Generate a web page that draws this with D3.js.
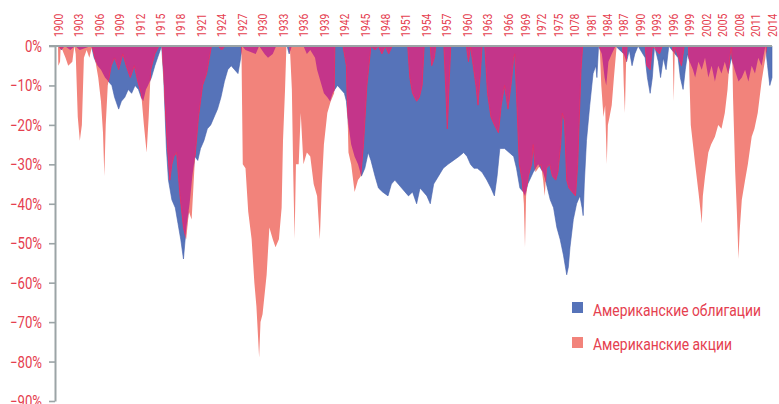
<!DOCTYPE html>
<html>
<head>
<meta charset="utf-8">
<script src="https://cdn.jsdelivr.net/npm/d3@7"></script>
<style>
  html, body { margin: 0; padding: 0; background: #fff; }
  svg { display: block; }
  text { font-family: Roboto, "Liberation Sans", sans-serif; font-weight: 400; fill: #e5404f; }
</style>
</head>
<body>
<svg id="chart" width="779" height="404"></svg>
<script>
// tick labels (the original chart prints 1978 as "1078")
const yearTicks = [1900, 1903, 1906, 1909, 1912, 1915, 1918, 1921, 1924, 1927, 1930, 1933, 1936, 1939,
  1942, 1945, 1948, 1951, 1954, 1957, 1960, 1963, 1966, 1969, 1972, 1975, 1978, 1981, 1984, 1987,
  1990, 1993, 1996, 1999, 2002, 2005, 2008, 2011, 2014];
const yearLabels = ["1900", "1903", "1906", "1909", "1912", "1915", "1918", "1921", "1924", "1927", "1930",
  "1933", "1936", "1939", "1942", "1945", "1948", "1951", "1954", "1957", "1960", "1963", "1966", "1969",
  "1972", "1975", "1078", "1981", "1984", "1987", "1990", "1993", "1996", "1999", "2002", "2005", "2008",
  "2011", "2014"];
const pctTicks = [0, -10, -20, -30, -40, -50, -60, -70, -80, -90];
const seriesNames = ["Американские облигации", "Американские акции"];

// drawdown from previous peak, % : [year, value]
const bonds = [
  [1900.0, 0], [1900.5, -1], [1901.0, 0], [1901.8, -1], [1902.5, 0], [1903.2, -1], [1904.0, -0.5],
  [1904.9, 0], [1905.3, -3], [1905.8, -5], [1906.3, -6], [1906.9, -8], [1907.4, -9], [1907.9, -10],
  [1908.3, -13], [1908.9, -16], [1909.3, -14], [1909.8, -13], [1910.3, -11], [1910.8, -12], [1911.3, -10],
  [1911.8, -11], [1912.2, -13], [1912.5, -14], [1912.9, -11], [1913.2, -10], [1913.7, -8], [1914.2, -5],
  [1914.6, -3], [1915.0, -1], [1915.2, 0], [1915.5, -8], [1915.9, -26], [1916.2, -34], [1916.7, -39],
  [1917.2, -41], [1917.6, -45], [1918.0, -49], [1918.4, -54], [1918.7, -48], [1918.9, -45], [1919.3, -40],
  [1919.7, -33], [1920.1, -28], [1920.5, -29], [1920.9, -26], [1921.4, -24], [1921.9, -21], [1922.4, -20],
  [1922.9, -18], [1923.4, -16], [1923.9, -13], [1924.4, -9], [1924.9, -6], [1925.4, -5], [1925.9, -6],
  [1926.4, -7], [1926.8, -3], [1927.0, 0], [1927.5, -1], [1929.0, -2], [1929.5, 0], [1930.3, -2],
  [1930.8, -3], [1931.5, -2], [1932.0, 0], [1933.6, 0], [1933.9, -2], [1934.3, 0], [1936.0, 0],
  [1936.5, -2], [1937.0, -1], [1937.7, -3], [1938.0, -6], [1938.5, -9], [1939.0, -12], [1939.5, -13],
  [1939.9, -14], [1940.3, -12], [1940.6, -11], [1941.0, -10], [1941.5, -11], [1942.0, -12], [1942.3, -14],
  [1942.6, -20], [1943.0, -25], [1943.5, -28], [1944.0, -30], [1944.5, -33], [1945.0, -31], [1945.5, -27],
  [1945.9, -29], [1946.5, -33], [1947.0, -36], [1947.6, -37], [1948.4, -38], [1948.9, -35], [1949.4, -34],
  [1949.9, -35], [1950.4, -36], [1950.9, -37], [1951.4, -38], [1952.0, -37], [1952.6, -40], [1953.1, -36],
  [1953.6, -37], [1954.1, -38], [1954.6, -40], [1955.1, -35], [1955.8, -33], [1956.5, -31], [1957.2, -30],
  [1958.0, -29], [1958.8, -28], [1959.5, -27], [1960.0, -28], [1960.5, -30], [1961.0, -31], [1961.5, -31],
  [1962.2, -32], [1962.9, -34], [1963.5, -36], [1964.0, -38], [1964.4, -33], [1964.8, -26], [1965.5, -26],
  [1966.2, -27], [1967.0, -28], [1967.5, -31], [1968.1, -36], [1968.7, -37], [1969.0, -38], [1969.5, -35],
  [1970.5, -32], [1971.4, -30], [1972.3, -32], [1972.9, -35], [1973.6, -39], [1974.2, -41], [1974.8, -46],
  [1975.4, -49], [1976.0, -53], [1976.6, -58], [1976.9, -56], [1977.2, -51], [1977.8, -44], [1978.4, -40],
  [1979.0, -38], [1979.4, -41], [1979.6, -43], [1979.8, -35], [1980.2, -24], [1980.8, -15], [1981.4, -7],
  [1981.9, -5], [1982.1, -8], [1982.4, 0], [1983.0, -2], [1983.5, -8], [1983.8, -10], [1984.2, -4],
  [1984.8, -2], [1985.5, 0], [1987.0, -2], [1987.5, -4], [1988.0, -1], [1988.5, -5], [1989.0, -2],
  [1989.6, 0], [1990.9, -3], [1991.3, -8], [1991.8, -12], [1992.2, -8], [1992.6, 0], [1993.3, -4],
  [1993.7, -8], [1994.2, -3], [1994.7, -6], [1995.2, 0], [1996.9, -3], [1997.3, -8], [1997.8, -11],
  [1998.2, -6], [1998.6, -2], [1999.0, -4], [1999.6, -6], [2000.0, -8], [2000.6, -4], [2001.2, -6],
  [2001.8, -3], [2002.4, -8], [2003.0, -5], [2003.6, -9], [2004.2, -5], [2004.8, -7], [2005.4, -4],
  [2006.0, -7], [2006.6, -3], [2007.2, -6], [2007.9, -9], [2008.5, -8], [2009.1, -6], [2009.7, -9],
  [2010.3, -5], [2010.9, -7], [2011.5, -3], [2012.1, -5], [2012.8, 0], [2013.2, -5], [2013.6, -10],
  [2014.0, -8]
];

const stocks = [
  [1900.0, 0], [1900.05, -5], [1900.3, -4], [1900.4, 0], [1901.1, -3], [1901.5, -5], [1902.1, -4],
  [1902.4, 0], [1902.6, -2], [1902.9, -18], [1903.2, -24], [1903.5, -20], [1903.8, -3], [1904.2, -1],
  [1904.6, -3], [1905.0, 0], [1905.4, -3], [1905.9, -8], [1906.3, -14], [1906.6, -22], [1906.8, -33],
  [1907.0, -20], [1907.3, -10], [1907.8, -5], [1908.3, -3], [1908.9, -6], [1909.5, -2], [1910.0, -5],
  [1910.6, -8], [1911.2, -5], [1911.7, -9], [1912.2, -12], [1912.6, -20], [1913.0, -27], [1913.3, -18],
  [1913.6, -6], [1914.2, -2], [1914.8, 0], [1915.2, 0], [1915.6, -12], [1916.0, -24], [1916.4, -34],
  [1916.7, -30], [1917.0, -28], [1917.4, -27], [1917.9, -38], [1918.4, -46], [1918.8, -49], [1919.2, -42],
  [1919.6, -44], [1920.1, -28], [1920.6, -18], [1921.2, -10], [1921.8, -7], [1922.2, -3], [1922.5, 0],
  [1923.5, 0], [1924.0, -1], [1924.5, 0], [1926.9, 0], [1927.0, -15], [1927.1, -30], [1927.5, -31],
  [1927.9, -42], [1928.4, -49], [1928.8, -60], [1929.1, -66], [1929.5, -79], [1929.7, -70], [1930.0, -68],
  [1930.6, -58], [1931.0, -46], [1931.5, -49], [1931.9, -51], [1932.4, -49], [1932.8, -41], [1933.0, -24],
  [1933.3, -11], [1933.5, 0], [1934.0, 0], [1934.3, -11], [1934.5, -32], [1934.7, -49], [1934.9, -30],
  [1935.3, -30], [1935.6, -17], [1936.0, -30], [1936.5, -27], [1937.0, -28], [1937.5, -35], [1938.0, -38],
  [1938.4, -49], [1938.7, -35], [1939.0, -25], [1939.5, -17], [1940.0, -14], [1940.5, -12], [1940.6, 0],
  [1941.8, 0], [1942.3, -5], [1942.6, -27], [1943.0, -30], [1943.5, -37], [1944.0, -34], [1944.4, -33],
  [1944.8, -25], [1945.3, -10], [1945.9, 0], [1946.5, -1], [1947.0, 0], [1947.5, -2], [1948.0, 0],
  [1948.5, -2], [1949.0, 0], [1951.3, 0], [1951.6, -8], [1952.0, -12], [1952.6, -14], [1953.0, -13],
  [1953.4, -10], [1953.7, 0], [1954.6, 0], [1954.8, -5], [1955.2, -3], [1955.4, 0], [1956.6, 0],
  [1956.9, -12], [1957.1, -21], [1957.4, -8], [1957.6, 0], [1959.9, 0], [1960.2, -4], [1960.5, 0],
  [1960.9, -5], [1961.3, -10], [1961.6, -15], [1961.9, -8], [1962.2, 0], [1962.6, 0], [1963.0, -12],
  [1963.5, -18], [1964.0, -20], [1964.6, -22], [1965.0, -15], [1965.5, -10], [1966.0, -16], [1966.6, -9],
  [1967.0, -3], [1967.2, -2], [1967.5, -12], [1968.0, -30], [1968.5, -34], [1968.8, -40], [1969.0, -51],
  [1969.2, -38], [1969.6, -33], [1970.2, -30], [1970.5, -25], [1970.9, -32], [1971.4, -31], [1971.9, -30],
  [1972.3, -34], [1972.6, -38], [1972.9, -31], [1973.5, -30], [1974.0, -33], [1974.6, -34], [1975.0, -32],
  [1975.5, -25], [1975.8, -17], [1976.2, -19], [1976.6, -34], [1977.0, -36], [1977.6, -37], [1978.2, -38],
  [1978.6, -30], [1978.9, -18], [1979.2, -6], [1979.5, 0], [1982.6, 0], [1982.9, -10], [1983.3, -18],
  [1983.6, -15], [1983.9, -30], [1984.1, -20], [1984.4, -18], [1984.8, -15], [1985.2, -8], [1985.7, 0],
  [1986.8, 0], [1987.0, -10], [1987.2, -17], [1987.4, -5], [1987.6, 0], [1990.9, 0], [1991.2, -5],
  [1991.8, -6], [1992.2, 0], [1993.5, -2], [1994.0, 0], [1995.9, 0], [1996.1, -14], [1996.3, 0],
  [1997.0, -3], [1997.5, -5], [1998.0, 0], [1998.8, 0], [1999.0, -10], [1999.2, -20], [1999.6, -25],
  [2000.0, -30], [2000.6, -37], [2001.0, -42], [2001.2, -45], [2001.4, -38], [2001.8, -33], [2002.4, -27],
  [2002.9, -25], [2003.6, -23], [2004.2, -20], [2004.8, -21], [2005.4, -17], [2005.9, -11], [2006.3, -3],
  [2006.6, 0], [2006.8, -5], [2006.9, -13], [2007.3, -32], [2007.6, -42], [2007.9, -54], [2008.1, -47],
  [2008.5, -39], [2009.1, -34], [2009.6, -30], [2010.3, -23], [2010.8, -21], [2011.4, -17], [2012.1, -9],
  [2012.8, -3], [2013.0, 0], [2014.0, 0]
];

const colors = { bonds: "#5673b9", stocks: "#f2837b", both: "#c4358a", axis: "#9ba4a6" };

// the year axis of the original is not quite even, so the scale is piecewise
const x = d3.scaleLinear().domain([1900, 1966, 1969, 2014]).range([58, 508, 525, 772]);
const y = d3.scaleLinear().domain([0, -90]).range([46, 401]);

const svg = d3.select("#chart");

const area = d3.area()
  .x(d => x(d[0]))
  .y0(y(0))
  .y1(d => y(d[1]));

// overlap = stocks area clipped by bonds area
svg.append("defs")
  .append("clipPath")
  .attr("id", "bondClip")
  .append("path")
  .datum(bonds)
  .attr("d", area);

svg.append("path")
  .datum(bonds)
  .attr("fill", colors.bonds)
  .attr("stroke", "#4662ad")
  .attr("stroke-width", 0.6)
  .attr("d", area);

svg.append("path")
  .datum(stocks)
  .attr("fill", colors.stocks)
  .attr("d", area);

svg.append("path")
  .datum(stocks)
  .attr("fill", colors.both)
  .attr("stroke", "#e0306c")
  .attr("stroke-width", 1)
  .attr("clip-path", "url(#bondClip)")
  .attr("d", area);

// y axis
const yAxis = svg.append("g")
  .attr("transform", "translate(55,0)")
  .call(d3.axisLeft(y).tickValues(pctTicks).tickSize(6).tickSizeOuter(0).tickFormat(""));
yAxis.select(".domain").attr("stroke", colors.axis).attr("stroke-width", 2);
yAxis.selectAll(".tick line").attr("stroke", colors.axis).attr("stroke-width", 1.6);

const pct = d3.format(".0%");
svg.append("g")
  .selectAll("text")
  .data(pctTicks)
  .join("text")
  .attr("transform", d => `translate(42,${y(d)}) scale(0.8,1)`)
  .attr("text-anchor", "end")
  .attr("dy", "0.36em")
  .attr("font-size", 16.5)
  .text(d => pct(d / 100));

// top line
svg.append("line")
  .attr("x1", 49).attr("x2", x(2014))
  .attr("y1", y(0)).attr("y2", y(0))
  .attr("stroke", colors.axis)
  .attr("stroke-width", 2);

// year labels
svg.append("g")
  .selectAll("text")
  .data(yearTicks)
  .join("text")
  .attr("transform", d => `translate(${x(d)},37) rotate(-90) scale(0.8,1)`)
  .attr("text-anchor", "start")
  .attr("dy", "0.36em")
  .attr("font-size", 13)
  .text((d, i) => yearLabels[i]);

// legend
const legend = svg.append("g").attr("transform", "translate(572,302)");
const legendColors = [colors.bonds, colors.stocks];
const legendWidths = [168, 139];
legend.selectAll("rect")
  .data(seriesNames)
  .join("rect")
  .attr("x", 0)
  .attr("y", (d, i) => i * 35)
  .attr("width", 11)
  .attr("height", 11)
  .attr("fill", (d, i) => legendColors[i]);
legend.selectAll("text")
  .data(seriesNames)
  .join("text")
  .attr("x", 21)
  .attr("y", (d, i) => 14 + i * 34)
  .attr("font-size", 17)
  .attr("textLength", (d, i) => legendWidths[i])
  .attr("lengthAdjust", "spacingAndGlyphs")
  .text(d => d);
</script>
</body>
</html>
